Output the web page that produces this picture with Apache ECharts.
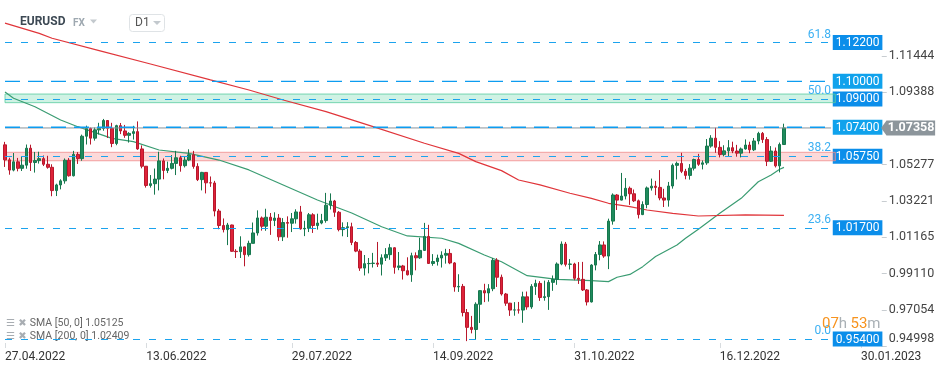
<!DOCTYPE html>
<html><head><meta charset="utf-8">
<script src="https://cdn.jsdelivr.net/npm/echarts@6/dist/echarts.min.js"></script>
<style>html,body{margin:0;padding:0;background:#fff}#c{width:949px;height:370px}</style>
</head><body><div id="c"></div>
<script>
// ---- data ----
const xTickLabels = ['27.04.2022','13.06.2022','29.07.2022','14.09.2022','31.10.2022','16.12.2022','30.01.2023'];
const xTickSlots = [0,33,67,100,133,167,200];
const slotCount = 221;
const yTickValues = [0.94998,0.97054,0.99110,1.01165,1.03221,1.05277,1.09388,1.11444];
// [open, close, low, high]
const candles = [
[1.0640,1.0555,1.0515,1.0657],[1.0555,1.0497,1.0471,1.0567],[1.0497,1.0544,1.0490,1.0594],[1.0544,1.0507,1.0490,1.0566],[1.0507,1.0525,1.0492,1.0573],
[1.0525,1.0621,1.0505,1.0642],[1.0621,1.0540,1.0492,1.0641],[1.0540,1.0551,1.0483,1.0600],[1.0551,1.0562,1.0534,1.0601],[1.0562,1.0530,1.0520,1.0580],
[1.0530,1.0513,1.0505,1.0578],[1.0513,1.0381,1.0349,1.0530],[1.0381,1.0413,1.0350,1.0420],[1.0413,1.0436,1.0388,1.0445],[1.0436,1.0553,1.0420,1.0563],
[1.0553,1.0465,1.0460,1.0565],[1.0465,1.0586,1.0461,1.0606],[1.0586,1.0562,1.0532,1.0599],[1.0562,1.0689,1.0550,1.0698],[1.0689,1.0733,1.0642,1.0749],
[1.0733,1.0678,1.0642,1.0738],[1.0678,1.0725,1.0664,1.0738],[1.0725,1.0733,1.0699,1.0765],[1.0733,1.0778,1.0720,1.0787],[1.0778,1.0734,1.0679,1.0779],
[1.0734,1.0648,1.0627,1.0765],[1.0648,1.0749,1.0638,1.0754],[1.0749,1.0719,1.0701,1.0764],[1.0719,1.0694,1.0680,1.0753],[1.0694,1.0705,1.0653,1.0712],
[1.0705,1.0715,1.0670,1.0748],[1.0715,1.0617,1.0612,1.0773],[1.0617,1.0519,1.0507,1.0637],[1.0519,1.0410,1.0398,1.0520],[1.0410,1.0420,1.0398,1.0469],
[1.0420,1.0446,1.0358,1.0506],[1.0446,1.0549,1.0382,1.0601],[1.0549,1.0495,1.0445,1.0563],[1.0495,1.0507,1.0480,1.0545],[1.0507,1.0535,1.0501,1.0582],
[1.0535,1.0567,1.0469,1.0606],[1.0567,1.0522,1.0488,1.0578],[1.0522,1.0554,1.0512,1.0571],[1.0554,1.0584,1.0548,1.0615],[1.0584,1.0518,1.0505,1.0606],
[1.0518,1.0443,1.0435,1.0536],[1.0443,1.0484,1.0382,1.0487],[1.0484,1.0425,1.0365,1.0486],[1.0425,1.0424,1.0402,1.0461],[1.0424,1.0265,1.0235,1.0436],
[1.0265,1.0183,1.0162,1.0277],[1.0183,1.0160,1.0144,1.0223],[1.0160,1.0186,1.0072,1.0198],[1.0186,1.0037,1.0034,1.0188],[1.0037,1.0035,0.9999,1.0049],
[1.0035,1.0062,0.9999,1.0122],[1.0062,1.0018,0.9952,1.0064],[1.0018,1.0082,1.0007,1.0097],[1.0082,1.0141,1.0082,1.0200],[1.0141,1.0226,1.0126,1.0269],
[1.0226,1.0179,1.0154,1.0234],[1.0179,1.0230,1.0153,1.0278],[1.0230,1.0212,1.0130,1.0254],[1.0212,1.0225,1.0180,1.0258],[1.0225,1.0119,1.0096,1.0248],
[1.0119,1.0200,1.0095,1.0225],[1.0200,1.0196,1.0114,1.0235],[1.0196,1.0221,1.0146,1.0254],[1.0221,1.0260,1.0194,1.0275],[1.0260,1.0164,1.0160,1.0294],
[1.0164,1.0167,1.0123,1.0210],[1.0167,1.0244,1.0146,1.0254],[1.0244,1.0183,1.0141,1.0253],[1.0183,1.0197,1.0160,1.0250],[1.0197,1.0211,1.0190,1.0249],
[1.0211,1.0298,1.0199,1.0368],[1.0298,1.0322,1.0274,1.0365],[1.0322,1.0258,1.0232,1.0328],[1.0258,1.0160,1.0150,1.0265],[1.0160,1.0171,1.0122,1.0201],
[1.0171,1.0176,1.0118,1.0202],[1.0176,1.0087,1.0072,1.0199],[1.0087,1.0038,1.0032,1.0095],[1.0038,0.9942,0.9926,1.0049],[0.9942,0.9967,0.9900,1.0016],
[0.9967,0.9968,0.9912,0.9999],[0.9968,0.9970,0.9945,1.0028],[0.9970,0.9964,0.9948,1.0090],[0.9964,1.0000,0.9900,1.0020],[1.0000,1.0018,0.9982,1.0055],
[1.0018,1.0057,0.9989,1.0079],[1.0057,0.9946,0.9910,1.0060],[0.9946,0.9954,0.9930,1.0033],[0.9954,0.9927,0.9877,0.9960],[0.9927,0.9904,0.9900,1.0003],
[0.9904,1.0012,0.9864,1.0029],[1.0012,1.0000,0.9929,1.0031],[1.0000,1.0042,0.9994,1.0114],[1.0042,1.0121,1.0039,1.0198],[1.0121,0.9968,0.9965,1.0187],
[0.9968,0.9979,0.9955,1.0021],[0.9979,0.9999,0.9956,1.0018],[0.9999,1.0015,0.9945,1.0037],[1.0015,1.0025,0.9967,1.0051],[1.0025,0.9971,0.9964,1.0050],
[0.9971,0.9835,0.9808,0.9976],[0.9835,0.9838,0.9807,0.9907],[0.9838,0.9690,0.9668,0.9852],[0.9690,0.9606,0.9528,0.9710],[0.9606,0.9594,0.9572,0.9671],
[0.9594,0.9737,0.9535,0.9748],[0.9737,0.9814,0.9631,0.9817],[0.9814,0.9801,0.9749,0.9853],[0.9801,0.9825,0.9752,0.9851],[0.9825,0.9986,0.9811,0.9999],
[0.9986,0.9890,0.9835,0.9998],[0.9890,0.9795,0.9786,0.9905],[0.9795,0.9743,0.9728,0.9801],[0.9743,0.9704,0.9671,0.9745],[0.9704,0.9705,0.9672,0.9749],
[0.9705,0.9704,0.9684,0.9750],[0.9704,0.9779,0.9632,0.9808],[0.9779,0.9722,0.9706,0.9809],[0.9722,0.9838,0.9711,0.9851],[0.9838,0.9855,0.9790,0.9876],
[0.9855,0.9775,0.9756,0.9868],[0.9775,0.9780,0.9757,0.9871],[0.9780,0.9861,0.9705,0.9874],[0.9861,0.9878,0.9813,0.9900],[0.9878,0.9965,0.9847,0.9974],
[0.9965,1.0078,0.9958,1.0093],[1.0078,0.9963,0.9951,1.0090],[0.9963,0.9965,0.9934,0.9993],[0.9965,0.9884,0.9873,0.9972],[0.9884,0.9878,0.9852,0.9976],
[0.9878,0.9818,0.9812,0.9977],[0.9818,0.9750,0.9730,0.9823],[0.9750,0.9959,0.9747,0.9964],[0.9959,1.0019,0.9929,1.0033],[1.0019,1.0073,0.9986,1.0095],
[1.0073,1.0010,1.0000,1.0093],[1.0010,1.0208,0.9936,1.0222],[1.0208,1.0356,1.0188,1.0365],[1.0356,1.0327,1.0271,1.0361],[1.0327,1.0350,1.0325,1.0481],
[1.0350,1.0394,1.0331,1.0452],[1.0394,1.0363,1.0300,1.0404],[1.0363,1.0323,1.0316,1.0387],[1.0323,1.0245,1.0223,1.0330],[1.0245,1.0302,1.0242,1.0320],
[1.0302,1.0396,1.0281,1.0404],[1.0396,1.0406,1.0381,1.0449],[1.0406,1.0399,1.0355,1.0436],[1.0399,1.0339,1.0326,1.0497],[1.0339,1.0327,1.0288,1.0391],
[1.0327,1.0407,1.0290,1.0430],[1.0407,1.0524,1.0392,1.0534],[1.0524,1.0535,1.0444,1.0545],[1.0535,1.0490,1.0480,1.0595],[1.0490,1.0467,1.0445,1.0504],
[1.0467,1.0508,1.0443,1.0531],[1.0508,1.0557,1.0495,1.0562],[1.0557,1.0530,1.0521,1.0589],[1.0530,1.0538,1.0501,1.0552],[1.0538,1.0633,1.0527,1.0673],
[1.0633,1.0678,1.0624,1.0695],[1.0678,1.0626,1.0595,1.0737],[1.0626,1.0585,1.0569,1.0661],[1.0585,1.0606,1.0575,1.0638],[1.0606,1.0624,1.0572,1.0667],
[1.0624,1.0605,1.0593,1.0658],[1.0605,1.0593,1.0573,1.0640],[1.0593,1.0617,1.0569,1.0625],[1.0617,1.0639,1.0613,1.0671],[1.0639,1.0612,1.0593,1.0658],
[1.0612,1.0662,1.0605,1.0679],[1.0662,1.0705,1.0643,1.0714],[1.0705,1.0670,1.0651,1.0713],[1.0670,1.0547,1.0520,1.0684],[1.0547,1.0605,1.0543,1.0633],
[1.0605,1.0521,1.0512,1.0625],[1.0521,1.0642,1.0484,1.0653],[1.0642,1.07358,1.0640,1.0760]
];
const sma50 = [[0,1.0940],[2,1.0904],[7,1.0856],[13,1.0781],[17,1.0743],[25,1.0677],[30,1.0658],[36,1.0611],[43,1.0592],[50,1.0554],[57,1.0498],[65,1.0413],[73,1.0328],[81,1.0254],[88,1.0176],[94,1.0124],[102,1.0111],[106,1.0082],[112,1.0016],[116,0.9978],[122,0.9899],[129,0.9878],[137,0.9871],[141,0.9865],[143,0.9890],[146,0.9906],[149,0.9950],[152,1.0007],[157,1.0073],[159,1.0111],[162,1.0162],[167,1.0252],[172,1.0337],[176,1.0431],[179,1.0469],[181,1.0502],[182,1.05125]];
const sma200 = [[0,1.1330],[8,1.1272],[11,1.1244],[22,1.1174],[34,1.1098],[48,1.1008],[57,1.0951],[65,1.0894],[75,1.0828],[86,1.0743],[98,1.0649],[106,1.0592],[110,1.0545],[116,1.0494],[120,1.0441],[125,1.0413],[132,1.0366],[137,1.0337],[141,1.0309],[146,1.0290],[150,1.0271],[156,1.0252],[162,1.0237],[173,1.0243],[182,1.02409]];
const shortLevels = [1.122, 1.090, 1.0575, 1.017, 0.954];
const shortFibTexts = ['61.8', '50.0', '38.2', '23.6', '0.0'];
const longLevels = [1.100, 1.074];
const pinkZone = [1.0550, 1.0598];
const greenZone = [1.0879, 1.0928];
const lastPrice = 1.07358;
const smaLegend = ['SMA [50, 0] 1.05125', 'SMA [200, 0] 1.02409'];
const countdown = ['07', '53'];

// ---- styling / layout ----
const yMin = 0.94891, yMax = 1.14608;
const lineStart = 0, lineEnd = 193, zoneEnd = 194, priceTagSlot = 211;
const levelBlue = '#1ba3ee';
const boxLevels = shortLevels.concat(longLevels);
const categories = Array.from({length: slotCount}, (_, i) => i);
const fmt5 = v => v.toFixed(5);

const chart = echarts.init(document.getElementById('c'), null, {renderer: 'canvas'});
const shortLines = shortLevels.map((v, i) => [
  {coord: [lineStart, v], label: {formatter: shortFibTexts[i]}},
  {coord: [lineEnd, v]}
]);
const longSeries = longLevels.map(v => ({
  type: 'line', name: 'level ' + v, data: [[lineStart, v], [lineEnd, v]], z: 4, silent: true,
  symbol: 'none', color: '#0d9cf0', lineStyle: {color: '#0d9cf0', width: 1.4, type: [15, 8]}
}));

const option = {
  animation: false,
  backgroundColor: '#fff',
  grid: {left: 2.86, top: 0, width: 945.9, bottom: 22, containLabel: false},
  xAxis: {
    type: 'category', data: categories, boundaryGap: true,
    axisLine: {show: false},
    axisTick: {show: true, inside: true, length: 5, alignWithLabel: true, lineStyle: {color: '#d8dcdf'},
      interval: (i) => xTickSlots.includes(i)},
    axisLabel: {interval: (i) => xTickSlots.includes(i), formatter: (v, i) => xTickLabels[xTickSlots.indexOf(i)] || '',
      align: 'left', color: '#333', fontSize: 12, fontFamily: 'Roboto', margin: 3},
    splitLine: {show: false}
  },
  yAxis: [
    {type: 'value', min: yMin, max: yMax, position: 'right', offset: -67, scale: true,
     axisLine: {show: false}, splitLine: {show: false},
     axisTick: {show: true, length: 5, customValues: yTickValues, lineStyle: {color: '#c8cdd1'}},
     axisLabel: {customValues: yTickValues, margin: 7, color: '#444', fontSize: 12.5, fontFamily: 'Roboto',
       formatter: v => v === yTickValues[0] ? '{b|' + fmt5(v) + '}' : fmt5(v),
       rich: {b: {padding: [0, 0, 14, 0], color: '#444', fontSize: 12.5, fontFamily: 'Roboto'}}}},
    {type: 'value', min: yMin, max: yMax, position: 'right', offset: -116, scale: true,
     axisLine: {show: false}, splitLine: {show: false}, axisTick: {show: false},
     axisLabel: {customValues: boxLevels, margin: 0,
       formatter: v => (longLevels.includes(v) ? '{l|' : '{d|') + fmt5(v) + '}',
       rich: {
         d: {backgroundColor: '#0b8eea', color: '#fff', fontSize: 12, fontFamily: 'Roboto', padding: [2, 3, 1, 3]},
         l: {backgroundColor: '#10a2ec', color: '#fff', fontSize: 12, fontFamily: 'Roboto', padding: [2, 3, 1, 3]}
       }}}
  ],
  series: [
    {type: 'candlestick', name: 'EURUSD', data: candles, z: 2, barWidth: 3, clip: false,
     itemStyle: {color: '#1f8b5d', color0: '#de2239', borderColor: '#17774e', borderColor0: '#b8182c', borderWidth: 1}},
    {type: 'line', name: 'SMA50', data: sma50, z: 2, symbol: 'none', lineStyle: {color: '#3a9c72', width: 1.2}},
    {type: 'line', name: 'SMA200', data: sma200, z: 2, symbol: 'none', lineStyle: {color: '#e0353a', width: 1.2}},
    {type: 'line', name: 'price line', data: [[lineStart, lastPrice], [lineEnd, lastPrice]], z: 3, silent: true,
     symbol: 'none', color: '#8a949b', lineStyle: {color: '#8a949b', width: 1, type: 'solid'}},
    ...longSeries,
    {type: 'line', name: 'short levels', data: [], z: 4, silent: true, color: levelBlue,
     markLine: {silent: true, symbol: 'none', animation: false,
       lineStyle: {color: levelBlue, width: 1, type: [7, 9]},
       label: {show: true, position: 'insideEndTop', color: '#3cb0f2', fontSize: 12, fontFamily: 'Roboto', distance: [0, 2]},
       data: shortLines}},
    {type: 'line', name: 'zones', data: [], z: 5, silent: true,
     markArea: {silent: true, data: [
       [{coord: [lineStart, pinkZone[0]], itemStyle: {color: 'rgba(246,120,120,0.28)', borderColor: 'rgba(240,140,140,0.8)', borderWidth: 1}}, {coord: [zoneEnd, pinkZone[1]]}],
       [{coord: [lineStart, greenZone[0]], itemStyle: {color: 'rgba(70,205,150,0.26)', borderColor: 'rgba(90,205,160,0.8)', borderWidth: 1}}, {coord: [zoneEnd, greenZone[1]]}]
     ]}},
    {type: 'line', name: 'price', data: [], z: 10, silent: true,
     markPoint: {silent: true, data: [{coord: [priceTagSlot, lastPrice], symbol: 'path://M0,7 L6,0 L60,0 L60,14 L6,14 Z', symbolSize: [54, 15],
       itemStyle: {color: '#8c959b'},
       label: {show: true, formatter: fmt5(lastPrice), color: '#fff', fontWeight: 'bold', fontSize: 12.5, fontFamily: 'Roboto', offset: [3, 0]}}]}}
  ],
  graphic: [
    {type: 'text', left: 20, top: 16, style: {text: 'EURUSD', font: 'bold 12px Roboto', fill: '#3d4954'}},
    {type: 'text', left: 73, top: 18, style: {text: 'FX', font: 'bold 10px Roboto', fill: '#9ea8b0'}},
    {type: 'polygon', shape: {points: [[90, 19.5], [97, 19.5], [93.5, 23.5]]}, style: {fill: '#c3c9ce'}},
    {type: 'rect', shape: {x: 129.5, y: 14.5, width: 35, height: 17, r: 3}, style: {fill: 'none', stroke: '#dfe3e6', lineWidth: 1}},
    {type: 'text', left: 135, top: 17, style: {text: 'D1', font: '12px Roboto', fill: '#555'}},
    {type: 'polygon', shape: {points: [[153, 21], [161, 21], [157, 25]]}, style: {fill: '#c3c9ce'}},
    {type: 'text', left: 6, top: 317, style: {text: '{i|☰ ✖} {t|' + smaLegend[0] + '}',
      rich: {i: {fill: '#a8adb2', font: '10px "DejaVu Sans"'}, t: {fill: '#666', font: '10.5px Roboto'}}}},
    {type: 'text', left: 6, top: 330, style: {text: '{i|☰ ✖} {t|' + smaLegend[1] + '}',
      rich: {i: {fill: '#a8adb2', font: '10px "DejaVu Sans"'}, t: {fill: '#666', font: '10.5px Roboto'}}}},
    {type: 'text', left: 822, top: 317, z: 20, style: {text: '{o|' + countdown[0] + '}{g|h} {o|' + countdown[1] + '}{g|m}',
      rich: {o: {fill: '#f7931e', font: '15px Roboto'}, g: {fill: '#a9b0b5', font: '15px Roboto'}}}}
  ]
};
chart.setOption(option);
</script>
</body></html>
